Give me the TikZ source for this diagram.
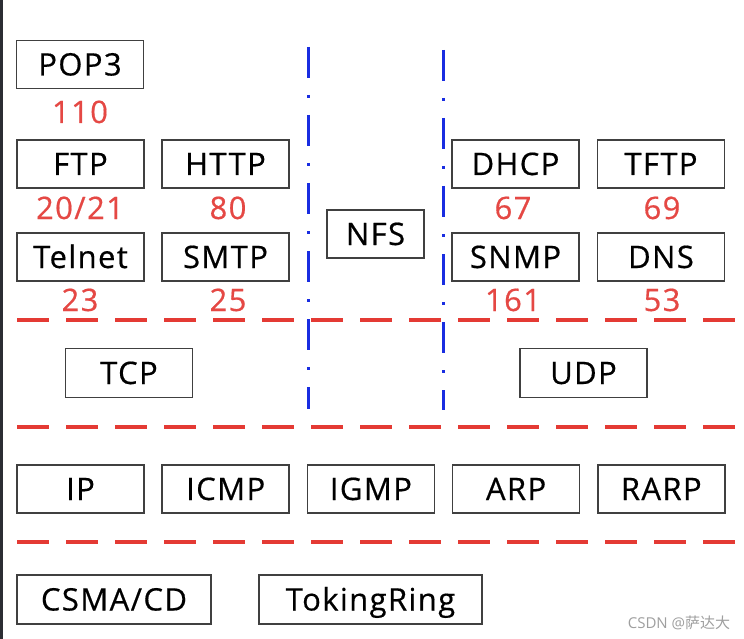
\documentclass[tikz,border=0pt]{standalone}
\usepackage{fontspec}
\setmainfont{Open Sans}
\newfontfamily\boxfont{Open Sans}[LetterSpace=4.5, FakeBold=0.5]
\newfontfamily\cjk{Noto Sans CJK SC}
\usetikzlibrary{positioning}
\definecolor{boxgray}{RGB}{64,64,64}
\definecolor{portred}{RGB}{229,72,68}
\definecolor{layerred}{RGB}{228,58,52}
\definecolor{splitblue}{RGB}{25,45,225}
\definecolor{edgedark}{RGB}{43,45,51}

\begin{document}
\begin{tikzpicture}[x=1pt, y=-1pt,
  proto/.style={draw=boxgray, line width=1.6pt, minimum width=127pt, minimum height=48pt,
    inner sep=0pt, text height=22pt, text depth=0pt, font=\boxfont\fontsize{31}{36}\selectfont},
  port/.style={text=portred, inner sep=0pt, text height=22pt, text depth=0pt,
    font=\boxfont\fontsize{31}{36}\selectfont},
  layer/.style={draw=layerred, line width=4pt, dash pattern=on 32pt off 17pt},
  split/.style={draw=splitblue, line width=3pt, dash pattern=on 31pt off 17pt on 3pt off 17pt}]
  % page and left edge
  \useasboundingbox (0,0) rectangle (744,639);
  \fill[white] (0,0) rectangle (744,639);
  \fill[edgedark] (0,0) rectangle (3,639);

  % application layer, TCP side
  \node[proto] (pop3) at (80,64.5) {POP3};
  \node[port] (pop3port) at (80,112) {110};
  \node[proto] (ftp) at (80.5,164) {FTP};
  \node[proto, right=16.4pt of ftp] (http) {HTTP};
  \node[port] (ftpport) at (80,208) {20/21};
  \node[port] (httpport) at (228,208) {80};
  \node[proto] (telnet) at (80.5,257) {Telnet};
  \node[proto, right=16.4pt of telnet] (smtp) {SMTP};
  \node[port] (telnetport) at (80,300) {23};
  \node[port] (smtpport) at (228,300) {25};

  % NFS in the middle
  \node[proto, minimum width=97pt] (nfs) at (375.5,234) {NFS};

  % application layer, UDP side
  \node[proto] (dhcp) at (515.5,164) {DHCP};
  \node[proto, right=16.9pt of dhcp] (tftp) {TFTP};
  \node[port] (dhcpport) at (513,208) {67};
  \node[port] (tftpport) at (662,208) {69};
  \node[proto] (snmp) at (515.5,257) {SNMP};
  \node[proto, right=16.9pt of snmp] (dns) {DNS};
  \node[port] (snmpport) at (513,300) {161};
  \node[port] (dnsport) at (662,300) {53};

  % transport layer
  \node[proto, minimum height=49pt] (tcp) at (129,373) {TCP};
  \node[proto, minimum height=49pt] (udp) at (583.5,373) {UDP};

  % network layer
  \node[proto] (ip) at (80.5,489) {IP};
  \node[proto, right=16.6pt of ip] (icmp) {ICMP};
  \node[proto, right=16.6pt of icmp] (igmp) {IGMP};
  \node[proto, right=16.6pt of igmp] (arp) {ARP};
  \node[proto, right=16.6pt of arp] (rarp) {RARP};

  % link layer
  \node[proto, minimum width=194pt, minimum height=49pt] (csma) at (114,599.5) {CSMA/CD};
  \node[proto, minimum width=223pt, minimum height=49pt] (token) at (370.5,599.5) {TokingRing};

  % dividers
  \draw[layer] (17,320) -- (737,320);
  \draw[layer] (17,427) -- (737,427);
  \draw[layer] (17,542) -- (737,542);
  \draw[split] (308,47) -- (308,409);
  \draw[split] (443,50) -- (443,410);

  \node[text=gray!75, inner sep=0pt, font=\fontsize{15}{18}\selectfont] (mark) at (679,623) {CSDN @{\cjk 萨达大}};
\end{tikzpicture}
\end{document}
